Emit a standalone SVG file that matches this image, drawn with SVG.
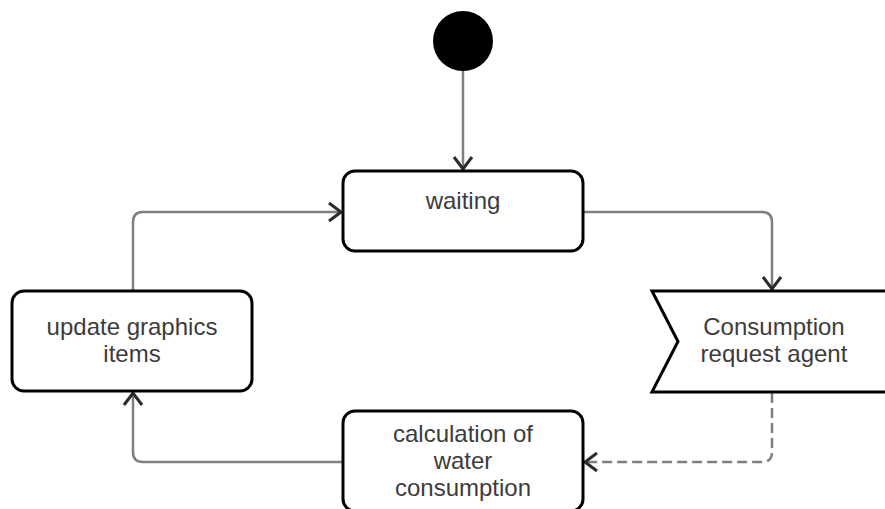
<svg xmlns="http://www.w3.org/2000/svg" width="885" height="509" viewBox="0 0 885 509">
  <style>
    .node { fill: #ffffff; stroke: #000000; stroke-width: 3; }
    .label { font-family: "Liberation Sans", Arial, sans-serif; font-size: 24px; fill: #3c3c3c; text-anchor: middle; }
    .edge { fill: none; stroke: #7f7f7f; stroke-width: 2.5; }
    .dashed { stroke-dasharray: 10 5; }
  </style>
  <defs>
    <marker id="open-arrow" viewBox="0 0 16 22" refX="14" refY="11" markerWidth="16" markerHeight="22" markerUnits="userSpaceOnUse" orient="auto">
      <path d="M2,2 L14,11 L2,20" fill="none" stroke="#2b2b2b" stroke-width="3" stroke-linejoin="miter"/>
    </marker>
  </defs>
  <rect width="885" height="509" fill="#ffffff"/>

  <!-- connectors -->
  <g id="connectors">
    <path class="edge" d="M463,71 L463,169" marker-end="url(#open-arrow)"/>
    <path class="edge" d="M584,212 L762,212 Q772,212 772,222 L772,289" marker-end="url(#open-arrow)"/>
    <path class="edge dashed" d="M772,393 L772,452 Q772,462 762,462 L585,462" marker-end="url(#open-arrow)"/>
    <path class="edge" d="M342,462 L143,462 Q133,462 133,452 L133,393" marker-end="url(#open-arrow)"/>
    <path class="edge" d="M133,290 L133,222 Q133,212 143,212 L341,212" marker-end="url(#open-arrow)"/>
  </g>

  <!-- initial state -->
  <g id="start">
    <circle cx="463" cy="41" r="30" fill="#000000"/>
  </g>

  <g id="waiting">
    <rect class="node" x="343" y="171" width="240" height="80" rx="12" ry="12"/>
    <text class="label" x="463" y="209">waiting</text>
  </g>

  <g id="consumption-request-agent">
    <polygon class="node" points="652,291 895,291 895,392 652,392 678,341.5"/>
    <text class="label" x="774" y="335">Consumption</text>
    <text class="label" x="774" y="362">request agent</text>
  </g>

  <g id="calculation">
    <rect class="node" x="343" y="411" width="240" height="100" rx="12" ry="12"/>
    <text class="label" x="463" y="442">calculation of</text>
    <text class="label" x="463" y="469">water</text>
    <text class="label" x="463" y="496">consumption</text>
  </g>

  <g id="update-graphics">
    <rect class="node" x="12" y="291" width="240" height="100" rx="12" ry="12"/>
    <text class="label" x="132" y="335">update graphics</text>
    <text class="label" x="132" y="362">items</text>
  </g>
</svg>
